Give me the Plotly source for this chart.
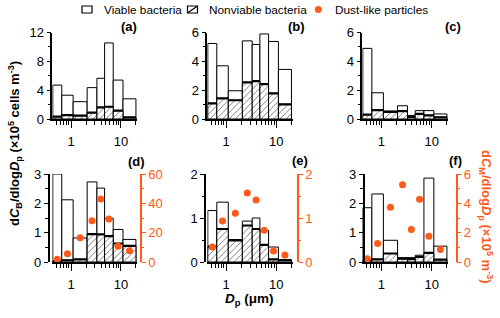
import numpy as np
import plotly.graph_objects as go

# ---------------- data ----------------
edges = [0.43, 0.65, 1.1, 2.1, 3.3, 4.7, 7.0, 11.0, 20.0]   # stage cut sizes (um)

viable_a = [4.7, 3.3, 2.4, 4.35, 5.65, 10.55, 5.4, 2.8]
nonviable_a = [0.32, 0.55, 0.46, 0.88, 1.6, 1.7, 1.15, 0.23]
viable_b = [5.24, 3.69, 1.96, 5.42, 5.17, 5.9, 5.38, 3.44]
nonviable_b = [1.08, 1.43, 1.3, 2.54, 2.63, 2.42, 1.78, 1.02]
viable_c = [4.9, 1.82, 0.55, 0.92, 0.25, 0.58, 0.58, 0.35]
nonviable_c = [0.3, 0.62, 0.5, 0.55, 0.15, 0.35, 0.25, 0.12]
viable_d = [3.0, 2.12, 0.82, 2.73, 2.52, 1.49, 1.11, 0.77]
nonviable_d = [0.02, 0.06, 0.09, 0.95, 0.94, 0.88, 0.63, 0.55]
dust_d = [1.8, 5.7, 16.5, 28.2, 43.0, 29.3, 10.8, 7.6]
viable_e = [1.17, 1.36, 0.51, 0.93, 1.0, 0.72, 0.34, 0.05]
nonviable_e = [0.35, 0.75, 0.49, 0.83, 0.75, 0.39, 0.06, 0.04]
dust_e = [0.34, 0.93, 1.11, 1.57, 1.41, 0.72, 0.25, 0.16]
viable_f = [1.85, 2.32, 0.74, 0.15, 0.15, 0.23, 2.86, 0.54]
nonviable_f = [0.06, 0.09, 0.29, 0.11, 0.10, 0.17, 0.31, 0.08]
dust_f = [0.23, 1.26, 3.73, 5.27, 2.22, 4.28, 1.76, 0.85]

panel_labels = ["(a)", "(b)", "(c)", "(d)", "(e)", "(f)"]
left_ranges = [12, 6, 6, 3, 2, 3]
left_major = [4, 2, 2, 1, 1, 1]
left_minor = [2, 1, 1, 0.5, 0.5, 0.5]
right_ranges = [60, 2, 6]
right_major = [20, 1, 2]
right_minor = [10, 0.5, 1]
x_tick_vals = [1, 10]
x_tick_text = ["1", "10"]
x_minor_vals = [0.5, 0.6, 0.7, 0.8, 0.9, 2, 3, 4, 5, 6, 7, 8, 9, 20]
x_limits = [0.42, 21.0]

legend_labels = ["Viable bacteria", "Nonviable bacteria", "Dust-like particles"]

# ---------------- style / layout ----------------
W, H = 500, 318
FONT = "Liberation Sans, Arial, sans-serif"
ORANGE = "#FF5A1A"


def px(x):
    return x / W


def py(y):
    return (H - y) / H


col_dom = [(52.3, 137.0), (207.3, 292.5), (362.3, 448.0)]
row_dom = [(32.5, 119.0), (174.0, 262.0)]
left_pos = [None, None, None, 48.5, 205.0, 363.5]
right_pos = [141.0, 298.0, 456.5]

viables = [viable_a, viable_b, viable_c, viable_d, viable_e, viable_f]
nonviables = [nonviable_a, nonviable_b, nonviable_c, nonviable_d, nonviable_e, nonviable_f]
dusts = [dust_d, dust_e, dust_f]

le = np.log10(edges)
centers = (le[:-1] + le[1:]) / 2
widths = le[1:] - le[:-1]

fig = go.Figure()
layout = dict(
    template="none",
    width=W, height=H, margin=dict(l=0, r=0, t=0, b=0, pad=0),
    paper_bgcolor="white", plot_bgcolor="white",
    barmode="overlay", showlegend=False,
    font=dict(family=FONT, size=13, color="black"),
)

annotations = []
shapes = []

for i in range(6):
    r, c = divmod(i, 3)
    xa = "x" if i == 0 else f"x{i+1}"
    ya = "y" if i == 0 else f"y{i+1}"
    xk = "xaxis" if i == 0 else f"xaxis{i+1}"
    yk = "yaxis" if i == 0 else f"yaxis{i+1}"

    fig.add_trace(go.Bar(
        x=centers, y=viables[i], width=widths, xaxis=xa, yaxis=ya,
        marker=dict(color="white", line=dict(color="black", width=1)),
    ))
    fig.add_trace(go.Bar(
        x=centers, y=nonviables[i], width=widths, xaxis=xa, yaxis=ya,
        marker=dict(color="white", line=dict(color="black", width=1),
                    pattern=dict(shape="/", fgcolor="#707070", bgcolor="white",
                                 size=4.5, solidity=0.2)),
    ))
    lx, lyv = [], []
    for k in range(len(centers)):
        lx += [le[k], le[k + 1], None]
        lyv += [nonviables[i][k], nonviables[i][k], None]
    fig.add_trace(go.Scatter(x=lx, y=lyv, mode="lines", xaxis=xa, yaxis=ya,
                             line=dict(color="black", width=2.2), hoverinfo="skip"))

    layout[xk] = dict(
        domain=[px(col_dom[c][0]), px(col_dom[c][1])],
        range=[np.log10(x_limits[0]), np.log10(x_limits[1])],
        anchor=ya, automargin=False, showline=True, linecolor="black", linewidth=2,
        showgrid=False, zeroline=False,
        tickmode="array", tickvals=list(np.log10(x_tick_vals)), ticktext=x_tick_text,
        ticks="outside", ticklen=7, tickwidth=1.3, tickcolor="black",
        ticklabelstandoff=2,
        minor=dict(tickmode="array", tickvals=list(np.log10(x_minor_vals)),
                   ticks="outside", ticklen=4, tickwidth=1, tickcolor="black",
                   showgrid=False),
        tickfont=dict(size=13),
    )
    yd = dict(
        domain=[py(row_dom[r][1]), py(row_dom[r][0])],
        range=[0, left_ranges[i]], automargin=False,
        showline=True, linecolor="black", linewidth=1.5,
        showgrid=False, zeroline=False,
        tickmode="linear", tick0=0, dtick=left_major[i],
        ticks="outside", ticklen=4, tickwidth=1.3, tickcolor="black",
        minor=dict(dtick=left_minor[i], ticks="outside", ticklen=2.5,
                   tickwidth=1, tickcolor="black", showgrid=False),
        tickfont=dict(size=13),
    )
    if left_pos[i] is None:
        yd["anchor"] = xa
    else:
        yd["anchor"] = "free"
        yd["position"] = px(left_pos[i])
    layout[yk] = yd

    # panel label
    annotations.append(dict(
        x=px([128.5, 296.5, 453.0, 136.5, 299.5, 455.0][i]),
        y=py([27.0, 27.0, 27.0, 161.5, 160.5, 160.5][i]),
        xref="paper", yref="paper", text=f"<b>{panel_labels[i]}</b>",
        showarrow=False, xanchor="center", yanchor="middle", font=dict(size=13)))

# right axes and dust particles
for j in range(3):
    i = 3 + j
    xa = f"x{i+1}"
    ya_left = f"y{i+1}"
    rk = 7 + j
    ya = f"y{rk}"
    fig.add_trace(go.Scatter(
        x=centers, y=dusts[j], mode="markers", xaxis=xa, yaxis=ya,
        marker=dict(color=ORANGE, size=7, line=dict(width=0)), cliponaxis=False))
    layout[f"yaxis{rk}"] = dict(
        overlaying=ya_left, side="right", anchor="free", position=px(right_pos[j]),
        range=[0, right_ranges[j]], automargin=False,
        showline=True, linecolor=ORANGE, linewidth=1.5,
        showgrid=False, zeroline=False,
        tickmode="linear", tick0=0, dtick=right_major[j],
        ticks="outside", ticklen=4, tickwidth=1.3, tickcolor=ORANGE,
        minor=dict(dtick=right_minor[j], ticks="outside", ticklen=2.5,
                   tickwidth=1, tickcolor=ORANGE, showgrid=False),
        tickfont=dict(size=13, color=ORANGE),
    )

# axis titles
annotations.append(dict(
    x=px(249), y=py(299.5), xref="paper", yref="paper", showarrow=False,
    text="<b><i>D</i><sub>p</sub> (μm)</b>", font=dict(size=13.5),
    xanchor="center", yanchor="middle"))
annotations.append(dict(
    x=px(15), y=py(144), xref="paper", yref="paper", showarrow=False, textangle=-90,
    text="<b>d<i>C</i><sub>B</sub>/dlog<i>D</i><sub>p</sub> (×10<sup>5</sup> cells m<sup>-3</sup>)</b>",
    font=dict(size=13), xanchor="center", yanchor="middle"))
annotations.append(dict(
    x=px(486), y=py(217), xref="paper", yref="paper", showarrow=False, textangle=90,
    text="<b>d<i>C</i><sub>M</sub>/dlog<i>D</i><sub>p</sub> (×10<sup>5</sup> m<sup>-3</sup>)</b>",
    font=dict(size=13, color=ORANGE), xanchor="center", yanchor="middle"))

# manual legend
leg_y = 9.5
shapes.append(dict(type="rect", xref="paper", yref="paper",
                   x0=px(82), x1=px(92), y0=py(leg_y + 3.5), y1=py(leg_y - 3.5),
                   line=dict(color="black", width=1.2), fillcolor="white"))
shapes.append(dict(type="rect", xref="paper", yref="paper",
                   x0=px(187.5), x1=px(197.5), y0=py(leg_y + 3.5), y1=py(leg_y - 3.5),
                   line=dict(color="black", width=1.2), fillcolor="white"))
shapes.append(dict(type="line", xref="paper", yref="paper",
                   x0=px(187.5), x1=px(197.5), y0=py(leg_y + 3.5), y1=py(leg_y - 3.5),
                   line=dict(color="black", width=1.2)))
shapes.append(dict(type="circle", xref="paper", yref="paper",
                   x0=px(314.8), x1=px(321.8), y0=py(leg_y + 3.5), y1=py(leg_y - 3.5),
                   line=dict(width=0), fillcolor=ORANGE))
for xpos, lab in zip([101.5, 207.0, 333.0], legend_labels):
    annotations.append(dict(x=px(xpos), y=py(leg_y), xref="paper", yref="paper",
                            text=lab, showarrow=False, xanchor="left", yanchor="middle",
                            font=dict(size=11.8)))

layout["annotations"] = annotations
layout["shapes"] = shapes
fig.update_layout(**layout)
fig.write_html("out.html", config={"displayModeBar": False},
               post_script="document.body.style.margin='0px';")
